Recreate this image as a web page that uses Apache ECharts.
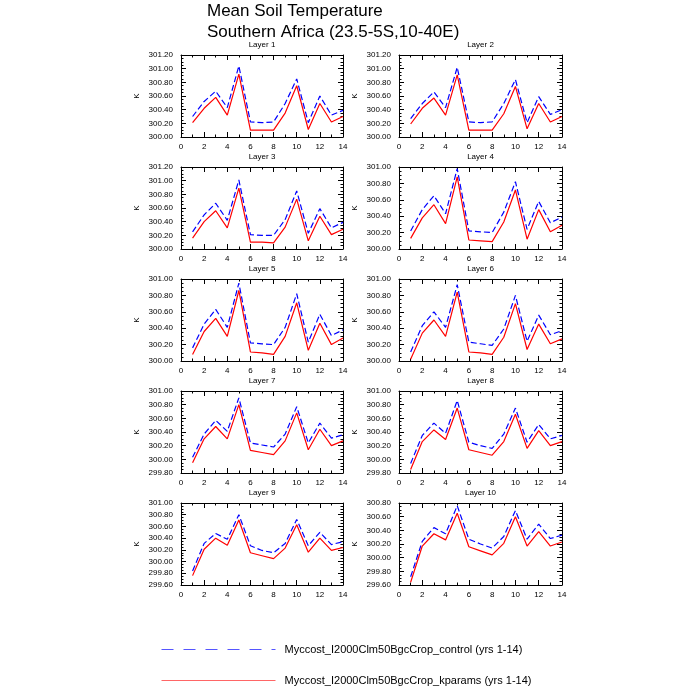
<!DOCTYPE html>
<html><head><meta charset="utf-8">
<script src="https://cdn.jsdelivr.net/npm/echarts@6/dist/echarts.min.js"></script>
<style>html,body{margin:0;padding:0;background:#fff}#c{width:700px;height:700px}</style>
</head><body><div id="c"></div>
<script>
const years = [1,2,3,4,5,6,7,8,9,10,11,12,13,14];
const layerNames = ['Layer 1','Layer 2','Layer 3','Layer 4','Layer 5','Layer 6','Layer 7','Layer 8','Layer 9','Layer 10'];
const xTickLabels = [0,2,4,6,8,10,12,14];
const yMin = [300.0,300.0,300.0,300.0,300.0,300.0,299.8,299.8,299.6,299.6];
const yMax = [301.2,301.2,301.2,301.0,301.0,301.0,301.0,301.0,301.0,300.8];
const seriesNameControl = 'Myccost_I2000Clm50BgcCrop_control (yrs 1-14)';
const seriesNameKparams = 'Myccost_I2000Clm50BgcCrop_kparams (yrs 1-14)';

const control_L1 = [300.30,300.52,300.67,300.43,301.04,300.22,300.21,300.22,300.49,300.85,300.21,300.60,300.32,300.39];
const kparams_L1 = [300.21,300.42,300.58,300.32,300.92,300.10,300.10,300.10,300.35,300.75,300.11,300.49,300.22,300.30];
const control_L2 = [300.27,300.49,300.66,300.43,301.02,300.22,300.21,300.22,300.49,300.84,300.21,300.59,300.33,300.40];
const kparams_L2 = [300.19,300.42,300.57,300.32,300.91,300.10,300.10,300.10,300.34,300.74,300.12,300.49,300.22,300.30];
const control_L3 = [300.25,300.50,300.67,300.42,301.01,300.21,300.20,300.20,300.43,300.85,300.23,300.59,300.31,300.39];
const kparams_L3 = [300.16,300.40,300.56,300.31,300.89,300.10,300.10,300.09,300.32,300.73,300.12,300.48,300.21,300.29];
const control_L4 = [300.22,300.48,300.65,300.43,300.98,300.22,300.21,300.20,300.45,300.82,300.24,300.58,300.32,300.39];
const kparams_L4 = [300.13,300.38,300.54,300.31,300.88,300.11,300.10,300.09,300.33,300.72,300.12,300.48,300.21,300.29];
const control_L5 = [300.16,300.45,300.63,300.41,300.95,300.22,300.21,300.20,300.41,300.82,300.23,300.57,300.31,300.38];
const kparams_L5 = [300.08,300.36,300.52,300.30,300.86,300.11,300.10,300.08,300.30,300.71,300.13,300.46,300.20,300.28];
const control_L6 = [300.11,300.43,300.60,300.41,300.93,300.23,300.21,300.19,300.39,300.80,300.24,300.56,300.32,300.37];
const kparams_L6 = [300.02,300.34,300.50,300.30,300.84,300.11,300.10,300.08,300.29,300.70,300.14,300.45,300.21,300.27];
const control_L7 = [300.03,300.37,300.57,300.41,300.90,300.24,300.21,300.18,300.37,300.77,300.24,300.53,300.31,300.36];
const kparams_L7 = [299.95,300.30,300.48,300.30,300.80,300.13,300.10,300.07,300.27,300.68,300.14,300.44,300.20,300.27];
const control_L8 = [299.94,300.35,300.53,300.38,300.86,300.25,300.20,300.16,300.37,300.75,300.25,300.51,300.30,300.35];
const kparams_L8 = [299.85,300.26,300.43,300.29,300.75,300.14,300.10,300.06,300.26,300.66,300.16,300.42,300.20,300.26];
const control_L9 = [299.84,300.31,300.48,300.38,300.80,300.27,300.19,300.15,300.31,300.72,300.27,300.50,300.29,300.34];
const kparams_L9 = [299.76,300.21,300.40,300.28,300.71,300.15,300.10,300.05,300.23,300.63,300.16,300.40,300.19,300.24];
const control_L10 = [299.72,300.24,300.44,300.35,300.76,300.27,300.20,300.14,300.31,300.69,300.27,300.49,300.28,300.33];
const kparams_L10 = [299.64,300.17,300.35,300.26,300.65,300.16,300.10,300.04,300.21,300.60,300.17,300.38,300.17,300.23];

const controlAll = [control_L1,control_L2,control_L3,control_L4,control_L5,control_L6,control_L7,control_L8,control_L9,control_L10];
const kparamsAll = [kparams_L1,kparams_L2,kparams_L3,kparams_L4,kparams_L5,kparams_L6,kparams_L7,kparams_L8,kparams_L9,kparams_L10];

const FONT = 'Liberation Sans, Arial, Helvetica, sans-serif';
const colLeft = [181, 399];
const colWidth = [162, 163];
const rowTop = [55, 167, 279, 391, 503];
const plotH = 82;

const grids = [], xAxes = [], yAxes = [], series = [], titles = [];
titles.push({
  text: 'Mean Soil Temperature\nSouthern Africa (23.5-5S,10-40E)',
  left: 207, top: 1, padding: 0,
  textStyle: {fontFamily: FONT, fontSize: 17, fontWeight: 'normal', color: '#000', lineHeight: 21}
});

for (let i = 0; i < 10; i++) {
  const col = i % 2, row = Math.floor(i / 2);
  grids.push({left: colLeft[col], top: rowTop[row], width: colWidth[col], height: plotH, containLabel: false});
  titles.push({
    text: layerNames[i], left: colLeft[col] + colWidth[col] / 2, top: rowTop[row] - 14, textAlign: 'center', padding: 0,
    textStyle: {fontFamily: FONT, fontSize: 8, fontWeight: 'normal', color: '#000'}
  });
  const axisCommon = {
    axisLine: {show: true, onZero: false, lineStyle: {color: '#000', width: 1}},
    axisTick: {show: true, inside: true, length: 5, lineStyle: {color: '#000', width: 1}},
    splitLine: {show: false}
  };
  xAxes.push(Object.assign({}, axisCommon, {
    type: 'value', gridIndex: i, position: 'bottom', min: 0, max: 14, interval: 2,
    minorTick: {show: true, splitNumber: 2, length: 2.5, lineStyle: {color: '#000'}},
    axisLabel: {show: true, fontFamily: FONT, fontSize: 8, color: '#000', margin: 6,
      formatter: v => xTickLabels.indexOf(v) >= 0 ? String(v) : ''}
  }));
  xAxes.push(Object.assign({}, axisCommon, {
    type: 'value', gridIndex: i, position: 'top', min: 0, max: 14, interval: 2,
    minorTick: {show: true, splitNumber: 2, length: 2.5, lineStyle: {color: '#000'}},
    axisLabel: {show: false}
  }));
  yAxes.push(Object.assign({}, axisCommon, {
    type: 'value', gridIndex: i, position: 'left', min: yMin[i], max: yMax[i], interval: 0.2,
    minorTick: {show: true, splitNumber: 4, length: 2.5, lineStyle: {color: '#000'}},
    name: 'K', nameLocation: 'middle', nameGap: 40, nameRotate: 90,
    nameTextStyle: {fontFamily: FONT, fontSize: 8, color: '#000'},
    axisLabel: {show: true, fontFamily: FONT, fontSize: 8, color: '#000', margin: 8,
      formatter: v => v.toFixed(2)}
  }));
  yAxes.push(Object.assign({}, axisCommon, {
    type: 'value', gridIndex: i, position: 'right', min: yMin[i], max: yMax[i], interval: 0.2,
    minorTick: {show: true, splitNumber: 4, length: 2.5, lineStyle: {color: '#000'}},
    axisLabel: {show: false}
  }));
  series.push({
    name: seriesNameControl, type: 'line', xAxisIndex: 2 * i, yAxisIndex: 2 * i,
    data: years.map((x, k) => [x, controlAll[i][k]]),
    symbol: 'none', silent: true, animation: false,
    lineStyle: {color: '#0000ff', width: 1.2, type: [6, 3]}, itemStyle: {color: '#0000ff'}
  });
  series.push({
    name: seriesNameKparams, type: 'line', xAxisIndex: 2 * i, yAxisIndex: 2 * i,
    data: years.map((x, k) => [x, kparamsAll[i][k]]),
    symbol: 'none', silent: true, animation: false,
    lineStyle: {color: '#ff0000', width: 1.2, type: 'solid'}, itemStyle: {color: '#ff0000'}
  });
}

const legendCommon = {
  orient: 'horizontal', left: 161, itemWidth: 114, itemHeight: 10, padding: 0,
  selectedMode: false,
  textStyle: {fontFamily: FONT, fontSize: 11, color: '#000', padding: [0, 0, 0, 4]}
};

const chart = echarts.init(document.getElementById('c'), null, {renderer: 'canvas'});
chart.setOption({
  backgroundColor: '#fff',
  animation: false,
  title: titles,
  legend: [
    Object.assign({}, legendCommon, {data: [{name: seriesNameControl, itemStyle: {opacity: 0}, lineStyle: {color: '#5555ff', width: 1, type: [12, 10]}}], top: 644}),
    Object.assign({}, legendCommon, {data: [{name: seriesNameKparams, itemStyle: {opacity: 0}, lineStyle: {color: '#ff6666', width: 1, type: 'solid'}}], top: 675})
  ],
  grid: grids, xAxis: xAxes, yAxis: yAxes, series: series
});
</script></body></html>
